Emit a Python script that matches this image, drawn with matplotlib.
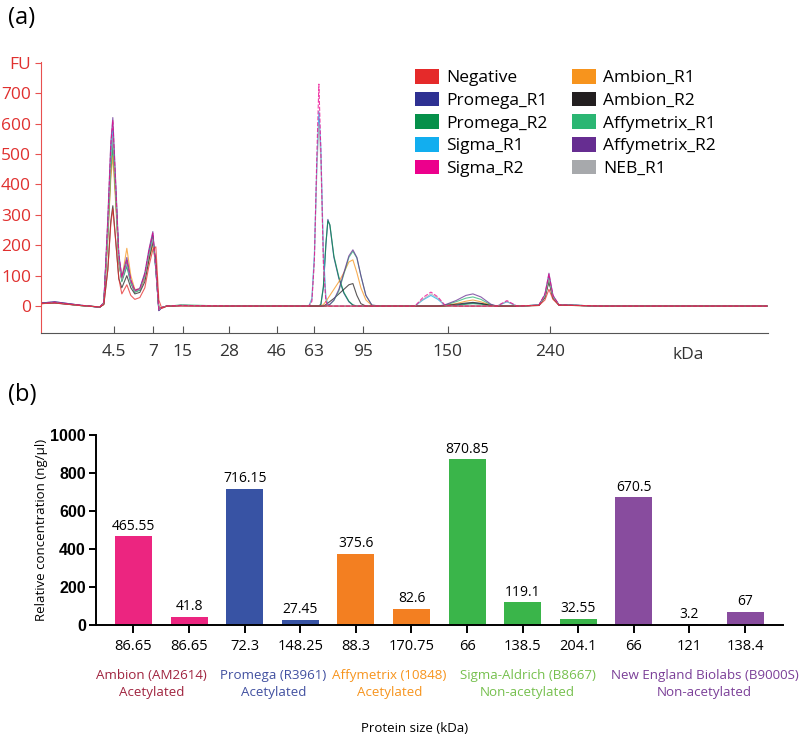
import matplotlib.pyplot as plt
from matplotlib.patches import Patch
import matplotlib.transforms as mtransforms

plt.rcParams['font.family'] = ['Open Sans', 'DejaVu Sans']

# ---- (a) electropherogram ----
# migration position (arbitrary units) and FU values
t = [0.0, 1.4, 3.9, 5.9, 6.3, 6.7, 7.0, 7.2, 7.5, 7.8, 8.1, 8.6, 9.0, 9.4, 9.9, 10.4, 10.8, 11.2, 11.5, 11.8, 12.1, 12.6, 14.0,
     20.0, 26.8, 27.1, 27.35, 27.6, 27.8, 28.0, 28.25, 28.5, 28.7, 28.9, 29.3, 29.8, 30.3, 30.8, 31.2, 31.6, 32.0, 32.5, 33.1, 34.0,
     37.4, 38.2, 39.0, 39.7, 40.4, 41.5, 42.5, 43.2, 44.0, 45.0, 45.6, 46.6, 47.6, 49.8, 50.4, 50.8, 51.2, 51.8, 56.0, 72.6]

negative = [8, 10, 2, -3, 5, 120, 270, 320, 210, 90, 40, 70, 35, 22, 28, 60, 130, 185, 195, 20, -8, 0, 0,
            0, 0, 0, 0, 0, 0, 0, 0, 0, 0, 0, 0, 0, 0, 0, 0, 0, 0, 0, 0, 0,
            0, 0, 0, 0, 0, 0, 0, 0, 0, 0, 0, 0, 0, 2, 20, 55, 22, 3, 0, 0]
promega_r1 = [10, 14, 3, -4, 10, 250, 480, 560, 360, 150, 85, 140, 80, 48, 55, 100, 170, 235, 120, -15, -5, 0, 2,
              0, 0, 0, 0, 0, 0, 5, 60, 200, 285, 265, 160, 90, 42, 14, 3, 0, 0, 0, 0, 0,
              0, 0, 0, 0, 0, 3, 8, 10, 8, 3, 0, 0, 0, 3, 35, 90, 30, 4, 0, 0]
promega_r2 = [9, 12, 2, -3, 8, 230, 440, 520, 350, 150, 80, 130, 75, 45, 52, 95, 160, 220, 130, -10, -5, 0, 3,
              0, 0, 0, 0, 0, 0, 6, 65, 205, 280, 268, 165, 95, 45, 16, 4, 0, 0, 0, 0, 0,
              0, 0, 0, 0, 0, 2, 6, 8, 6, 2, 0, 0, 0, 3, 32, 85, 28, 4, 0, 0]
sigma_r1 = [8, 11, 2, -3, 10, 260, 500, 580, 380, 160, 90, 140, 80, 50, 55, 100, 170, 225, 120, -12, -5, 0, 2,
            0, 0, 25, 170, 470, 640, 520, 180, 30, 5, 0, 0, 0, 0, 0, 0, 0, 0, 0, 0, 0,
            0, 20, 35, 22, 2, 0, 0, 0, 0, 0, 0, 14, 0, 3, 35, 95, 32, 4, 0, 0]
sigma_r2 = [9, 12, 3, -3, 12, 280, 530, 610, 390, 170, 95, 150, 85, 50, 58, 105, 180, 240, 125, -12, -5, 0, 2,
            0, 0, 15, 150, 500, 730, 510, 140, 15, 0, 0, 0, 0, 0, 0, 0, 0, 0, 0, 0, 0,
            0, 28, 46, 30, 3, 0, 0, 0, 0, 0, 0, 18, 0, 3, 40, 105, 35, 4, 0, 0]
ambion_r1 = [8, 11, 2, -3, 8, 220, 420, 495, 330, 140, 90, 190, 100, 55, 55, 90, 150, 200, 140, -8, -5, 0, 2,
             0, 0, 0, 0, 0, 0, 0, 5, 15, 25, 35, 55, 80, 110, 145, 152, 110, 60, 20, 2, 0,
             0, 0, 0, 0, 2, 8, 16, 20, 14, 3, 0, 0, 0, 2, 30, 85, 28, 3, 0, 0]
ambion_r2 = [8, 10, 2, -3, 5, 120, 280, 330, 210, 90, 60, 100, 60, 40, 45, 80, 150, 210, 150, -10, -5, 0, 1,
             0, 0, 0, 0, 0, 0, 0, 0, 5, 10, 15, 25, 40, 55, 70, 74, 35, 8, 0, 0, 0,
             0, 0, 0, 0, 2, 6, 10, 12, 9, 2, 0, 0, 0, 2, 28, 80, 26, 3, 0, 0]
affymetrix_r1 = [9, 12, 2, -3, 8, 240, 460, 540, 360, 150, 85, 150, 80, 48, 55, 100, 170, 230, 125, -12, -5, 0, 3,
                 0, 0, 0, 0, 0, 0, 0, 0, 0, 2, 5, 18, 50, 105, 160, 180, 158, 100, 35, 3, 0,
                 0, 0, 0, 0, 3, 14, 26, 30, 22, 4, 0, 0, 0, 3, 32, 92, 30, 4, 0, 0]
affymetrix_r2 = [10, 14, 3, -4, 12, 290, 540, 620, 400, 170, 95, 160, 85, 52, 58, 110, 185, 245, 125, -15, -5, 0, 2,
                 0, 0, 0, 0, 0, 0, 0, 0, 0, 2, 6, 20, 55, 110, 165, 185, 160, 100, 35, 3, 0,
                 0, 0, 0, 0, 4, 18, 35, 40, 30, 6, 0, 0, 0, 3, 38, 108, 35, 4, 0, 0]
neb_r1 = [8, 11, 2, -3, 10, 250, 480, 560, 370, 150, 85, 140, 80, 48, 55, 95, 165, 220, 120, -12, -5, 0, 2,
          0, 0, 20, 150, 450, 600, 480, 150, 20, 0, 0, 0, 0, 0, 0, 0, 0, 0, 0, 0, 0,
          0, 22, 40, 26, 2, 0, 0, 0, 0, 0, 0, 15, 0, 3, 33, 90, 30, 4, 0, 0]

trace_names = ['Negative', 'Promega_R1', 'Promega_R2', 'Sigma_R1', 'Sigma_R2',
               'Ambion_R1', 'Ambion_R2', 'Affymetrix_R1', 'Affymetrix_R2', 'NEB_R1']
trace_colors = ['#E52A2A', '#2E3192', '#05904A', '#12AEEF', '#EC008C',
                '#F7941D', '#231F20', '#2BB673', '#662D91', '#A7A9AC']
trace_values = [negative, promega_r1, promega_r2, sigma_r1, sigma_r2,
                ambion_r1, ambion_r2, affymetrix_r1, affymetrix_r2, neb_r1]

kda_ticks = [7.3, 11.2, 14.2, 18.8, 23.6, 27.3, 32.2, 40.7, 50.9]
kda_labels = ['4.5', '7', '15', '28', '46', '63', '95', '150', '240']
fu_ticks = [0, 100, 200, 300, 400, 500, 600, 700, 800]
fu_labels = ['0', '100', '200', '300', '400', '500', '600', '700', 'FU']

# ---- (b) bar chart ----
bar_values = [465.55, 41.8, 716.15, 27.45, 375.6, 82.6, 870.85, 119.1, 32.55, 670.5, 3.2, 67]
size_labels = ['86.65', '86.65', '72.3', '148.25', '88.3', '170.75', '66', '138.5', '204.1', '66', '121', '138.4']
bar_colors = ['#EC2580', '#EC2580', '#3853A4', '#3853A4', '#F37F21', '#F37F21',
              '#3AB54A', '#3AB54A', '#3AB54A', '#884C9E', '#884C9E', '#884C9E']
group_labels = ['Ambion (AM2614)\nAcetylated', 'Promega (R3961)\nAcetylated', 'Affymetrix (10848)\nAcetylated',
                'Sigma-Aldrich (B8667)\nNon-acetylated', 'New England Biolabs (B9000S)\nNon-acetylated']
group_pos = [0.33, 2.52, 4.6, 7.09, 10.27]
group_colors = ['#A0243F', '#4150A0', '#F7941D', '#76C04E', '#7B3F98']

fig = plt.figure(figsize=(8, 7.37), dpi=100)

# panel (a)
ax1 = fig.add_axes([0.051, 0.548, 0.909, 0.368])
order = [1, 2, 3, 5, 6, 7, 8, 9, 4, 0]
for i in order:
    ls = '--' if trace_names[i] == 'Sigma_R2' else '-'
    ax1.plot(t, trace_values[i], color=trace_colors[i], lw=0.8, ls=ls, alpha=0.75)
ax1.set_xlim(0, 72.7)
ax1.set_ylim(-89, 803)
for s in ['top', 'right']:
    ax1.spines[s].set_visible(False)
ax1.spines['left'].set_color('#E8504F')
ax1.spines['bottom'].set_color('#555555')
ax1.set_yticks(fu_ticks)
ax1.set_yticklabels(fu_labels)
ax1.tick_params(axis='y', colors='#E8504F', labelcolor='#E0302F', labelsize=12.5, length=4, direction='out', pad=3)
ax1.set_xticks(kda_ticks)
ax1.set_xticklabels(kda_labels)
ax1.tick_params(axis='x', colors='#555555', labelcolor='#333333', labelsize=12.5, length=5, direction='in', pad=8)
trans = mtransforms.blended_transform_factory(ax1.transData, ax1.transAxes)
ax1.text(64.7, -0.052, 'kDa', transform=trans, ha='center', va='top', fontsize=12.5, color='#333333')

handles = [Patch(facecolor=c, edgecolor='none') for c in trace_colors]
ax1.legend(handles, trace_names, ncol=2, frameon=False, loc='upper left', bbox_to_anchor=(0.505, 1.0),
           fontsize=12.5, handlelength=1.4, handleheight=0.95, handletextpad=0.4,
           columnspacing=1.4, labelspacing=0.3, borderaxespad=0)

fig.text(0.01, 0.976, '(a)', fontsize=17, va='center', ha='left')
fig.text(0.01, 0.464, '(b)', fontsize=17, va='center', ha='left')

# panel (b)
ax2 = fig.add_axes([0.1196, 0.152, 0.859, 0.258])
xs = list(range(len(bar_values)))
ax2.bar(xs, bar_values, width=0.665, color=bar_colors)
for x, v in zip(xs, bar_values):
    ax2.annotate(f'{v:g}', (x, v), xytext=(0, 2), textcoords='offset points',
                 ha='center', va='bottom', fontsize=10)
ax2.set_xlim(-0.68, 11.68)
ax2.set_ylim(0, 1000)
ax2.set_yticks([0, 200, 400, 600, 800, 1000])
for s in ['top', 'right']:
    ax2.spines[s].set_visible(False)
for s in ['left', 'bottom']:
    ax2.spines[s].set_linewidth(1.4)
ax2.tick_params(axis='y', length=5, width=1.4, labelsize=11.5, pad=2)
for lab in ax2.get_yticklabels():
    lab.set_fontfamily('Liberation Sans')
    lab.set_fontweight('bold')
ax2.set_xticks(xs)
ax2.set_xticklabels(size_labels)
ax2.tick_params(axis='x', length=6, width=1.4, labelsize=10.5, pad=4)
ax2.set_ylabel('Relative concentration (ng/µl)', fontsize=9.5)
ax2.yaxis.set_label_coords(-0.07, 0.5)

trans2 = mtransforms.blended_transform_factory(ax2.transData, fig.transFigure)
for gx, gl, gc in zip(group_pos, group_labels, group_colors):
    ax2.text(gx, 1 - 684 / 737, gl, transform=trans2, ha='center', va='center',
             fontsize=9.6, color=gc, linespacing=1.4, multialignment='center')
fig.text(415 / 800, 1 - 728 / 737, 'Protein size (kDa)', ha='center', va='center', fontsize=9.5)

plt.savefig('out.png', dpi=100)
